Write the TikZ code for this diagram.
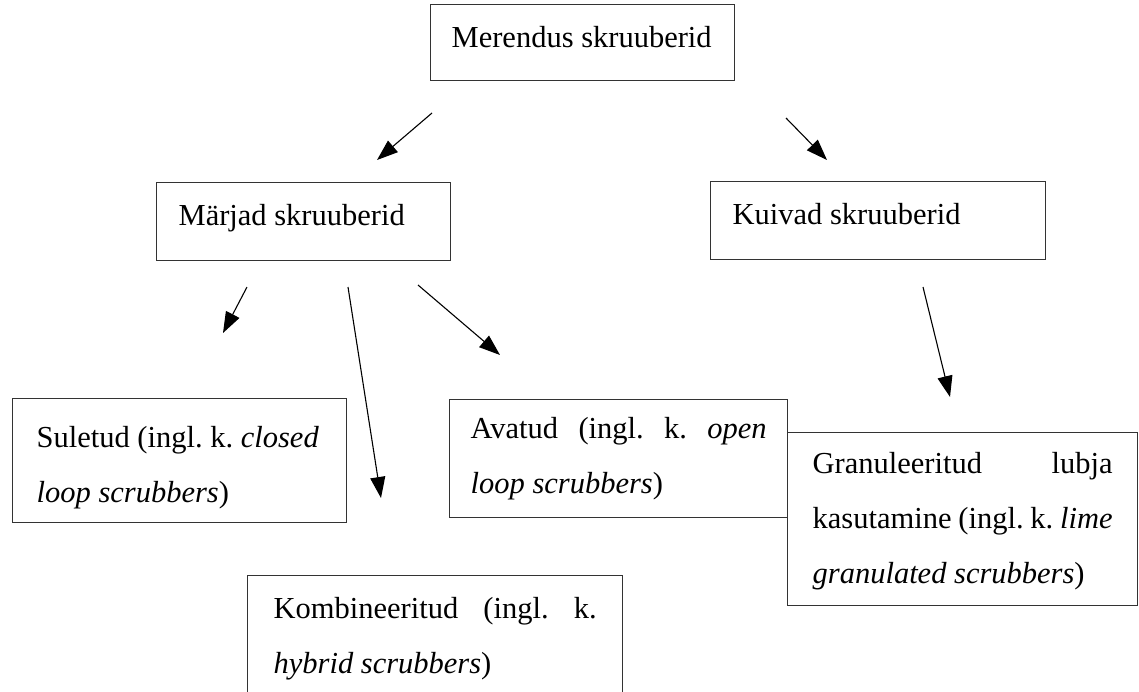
\documentclass[tikz,border=0pt]{standalone}
\usepackage{fontspec}
\setmainfont{Liberation Serif}
\usetikzlibrary{arrows.meta}
\tikzset{
	skbox/.style={
		draw=black!80, line width=1.3pt, anchor=north west,
		inner ysep=0pt, align=flush left,
		font=\fontsize{30.5}{55}\selectfont\frenchspacing},
	skarrow/.style={
		line width=1.1pt, -{Triangle[length=21pt,width=15pt]}}
}
% first line height, last line depth, text
\newcommand{\boxlines}[3]{\rule{0pt}{#1pt}#3\rule[-#2pt]{0pt}{#2pt}}

\begin{document}
\begin{tikzpicture}[x=1pt,y=1pt,yscale=-1]
\useasboundingbox (0,0) rectangle (1139,691);
\clip (0,0) rectangle (1139,691);

\node[skbox, inner xsep=21pt, text width=262pt] (merendus) at (430,4) {\boxlines{43}{33}{Merendus skruuberid}};
\node[skbox, inner xsep=22pt, text width=250pt] (marjad) at (156,182) {\boxlines{43}{35}{Märjad skruuberid}};
\node[skbox, inner xsep=22pt, text width=291pt] (kuivad) at (710,181) {\boxlines{43}{35}{Kuivad skruuberid}};

\node[skbox, inner xsep=24pt, text width=286pt] (suletud) at (12,398) {\boxlines{49}{20}{Suletud (ingl. k. \textit{closed}\\\textit{loop scrubbers})}};
\node[skbox, inner xsep=21pt, text width=296pt] (avatud) at (449,399) {\boxlines{39}{24}{Avatud\hfill(ingl.\hfill k.\hfill\textit{open}\\\textit{loop scrubbers})}};
\node[skbox, inner xsep=25pt, text width=300pt] (granul) at (787,432) {\boxlines{41}{22}{Granuleeritud\hfill lubja\\kasutamine\hfill(ingl.\hfill k.\hfill\textit{lime}\\\textit{granulated scrubbers})}};
\node[skbox, inner xsep=26pt, text width=323pt] (kombin) at (247,575) {\boxlines{43}{40}{Kombineeritud\hfill(ingl.\hfill k.\\\textit{hybrid scrubbers})}};

% arrow ends
\coordinate (m1) at (432,113);
\coordinate (m2) at (377,160);
\coordinate (k1) at (786,118);
\coordinate (k2) at (827,160);
\coordinate (s1) at (247,287);
\coordinate (s2) at (223,333);
\coordinate (h1) at (348,287);
\coordinate (h2) at (381,498);
\coordinate (o1) at (418,285);
\coordinate (o2) at (500,355);
\coordinate (g1) at (923,287);
\coordinate (g2) at (950,397);

\draw[skarrow] (m1) -- (m2);
\draw[skarrow] (k1) -- (k2);
\draw[skarrow] (s1) -- (s2);
\draw[skarrow] (h1) -- (h2);
\draw[skarrow] (o1) -- (o2);
\draw[skarrow] (g1) -- (g2);

\end{tikzpicture}
\end{document}
